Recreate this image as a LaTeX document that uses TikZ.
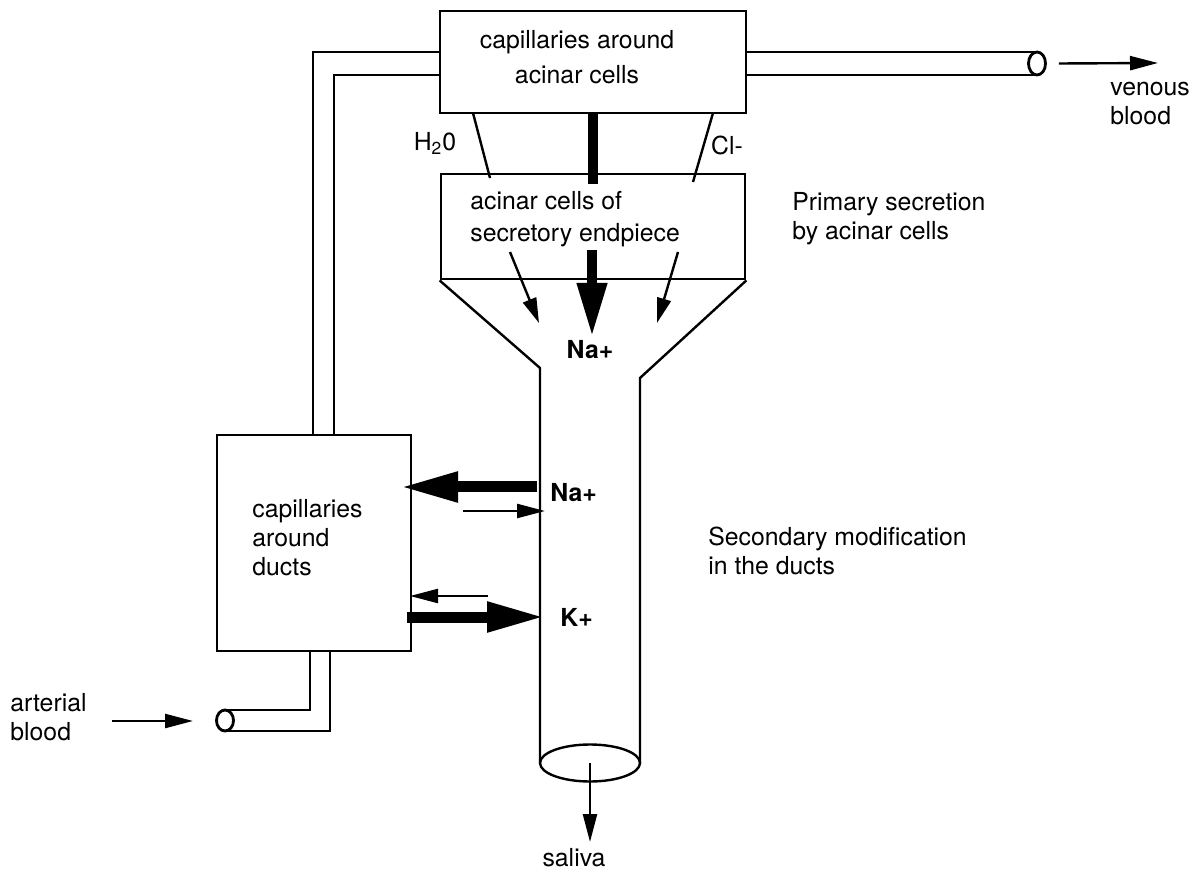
\documentclass[tikz,border=0pt]{standalone}
\usepackage{fontspec}
\setmainfont{TeX Gyre Heros}
\usetikzlibrary{arrows.meta,shapes.geometric}

\tikzset{
  box/.style={draw, line width=1.4pt, inner sep=0pt},
  pipe/.style={line width=1.4pt},
  tube/.style={line width=1.2pt},
  pipeend/.style={draw, ellipse, fill=white, line width=1.4pt, inner sep=0pt},
  label/.style={font=\fontsize{12.4}{14.5}\selectfont, inner sep=0pt},
  ion/.style={font=\bfseries\fontsize{12.4}{14.5}\selectfont, inner sep=0pt},
  thickarrow/.style={line width=5.5pt, -{Triangle[length=29pt,width=14pt]}},
  thinarrow/.style={line width=1.2pt, -{Triangle[length=14pt,width=7pt]}},
  funnelarrow/.style={line width=1.2pt, -{Triangle[length=12.5pt,width=7pt]}}
}

\begin{document}
\begin{tikzpicture}[x=0.5pt,y=-0.5pt]
  \useasboundingbox (0,0) rectangle (1194,871);

  \node[box, minimum width=153pt, minimum height=51pt] (ctop) at (593,62) {};
  \node[box, minimum width=152pt, minimum height=52.5pt] (cacinar) at (593,226.5) {};
  \node[box, minimum width=97pt, minimum height=108pt] (cducts) at (314,543) {};

  \node[label, align=center, font=\fontsize{12.4}{17.5}\selectfont] (ctoptext) at (577,57.5)
    {capillaries around\\acinar cells};
  \node[label, align=left, anchor=west, font=\fontsize{12.4}{16}\selectfont] (cacinartext) at (470,219)
    {acinar cells of\\secretory endpiece};
  \node[label, align=left, anchor=west] (cductstext) at (252,538)
    {capillaries\\around\\ducts};
  \node[label, align=left, anchor=west] (primary) at (792,218.5)
    {Primary secretion\\by acinar cells};
  \node[label, align=left, anchor=west] (secondary) at (708,551)
    {Secondary modification\\in the ducts};
  \node[label, align=left, anchor=west] (arterial) at (10,717.5)
    {arterial\\blood};
  \node[label, align=left, anchor=west] (venous) at (1110,104)
    {venous\\blood};
  \node[label] (water) at (435,143) {H\textsubscript{2}0};
  \node[label] (chloride) at (727,145) {Cl-};
  \node[label] (saliva) at (574,858) {saliva};
  \node[ion] (natop) at (590,350) {Na+};
  \node[ion, anchor=west] (naduct) at (550,493) {Na+};
  \node[ion, anchor=west] (kduct) at (560,617) {K+};

  \draw[pipe] (440,52) -- (313,52) -- (313,435);
  \draw[pipe] (440,75) -- (334,75) -- (334,435);
  \draw[pipe] (746,52) -- (1037,52);
  \draw[pipe] (746,75) -- (1037,75);
  \node[pipeend, minimum width=8.5pt, minimum height=11.5pt] (venend) at (1037,63.5) {};
  \draw[pipe] (310,651) -- (310,710) -- (225,710);
  \draw[pipe] (330,651) -- (330,731) -- (225,731);
  \node[pipeend, minimum width=8.5pt, minimum height=10.5pt] (artend) at (225,720.5) {};

  \draw[tube] (cacinar.south west) -- (540,368) -- (540,763);
  \draw[tube] (cacinar.south east) -- (640,378) -- (640,763);
  \node[draw, ellipse, tube, minimum width=50pt, minimum height=18.5pt, inner sep=0pt] (outlet) at (590,763) {};

  \coordinate (vtip) at (1158,63);
  \coordinate (atail) at (112,721);
  \coordinate (atip) at (193,721);
  \coordinate (stip) at (590,842);
  \draw[thinarrow] ([xshift=6pt]venend.east) -- (vtip);
  \draw[thinarrow] (atail) -- (atip);
  \draw[thinarrow] (outlet.center) -- (stip);

  \draw[line width=5pt] (ctop.south) -- ([yshift=-5.5pt]cacinar.north);
  \draw[line width=5pt, -{Triangle[length=27pt,width=14pt]}] (592,250) -- (592,337);
  \draw[tube] (473,113) -- (490,178);
  \draw[tube] (713,113) -- (693,182);
  \draw[funnelarrow] (510,252) -- (539,323);
  \draw[funnelarrow] (678,252) -- (657,323);

  \draw[thickarrow] (537,487) -- (400,487);
  \draw[thinarrow] (463,511) -- (545,511);
  \draw[thinarrow] (488,596) -- (410,596);
  \draw[thickarrow] (407,617) -- (545,617);
\end{tikzpicture}
\end{document}
